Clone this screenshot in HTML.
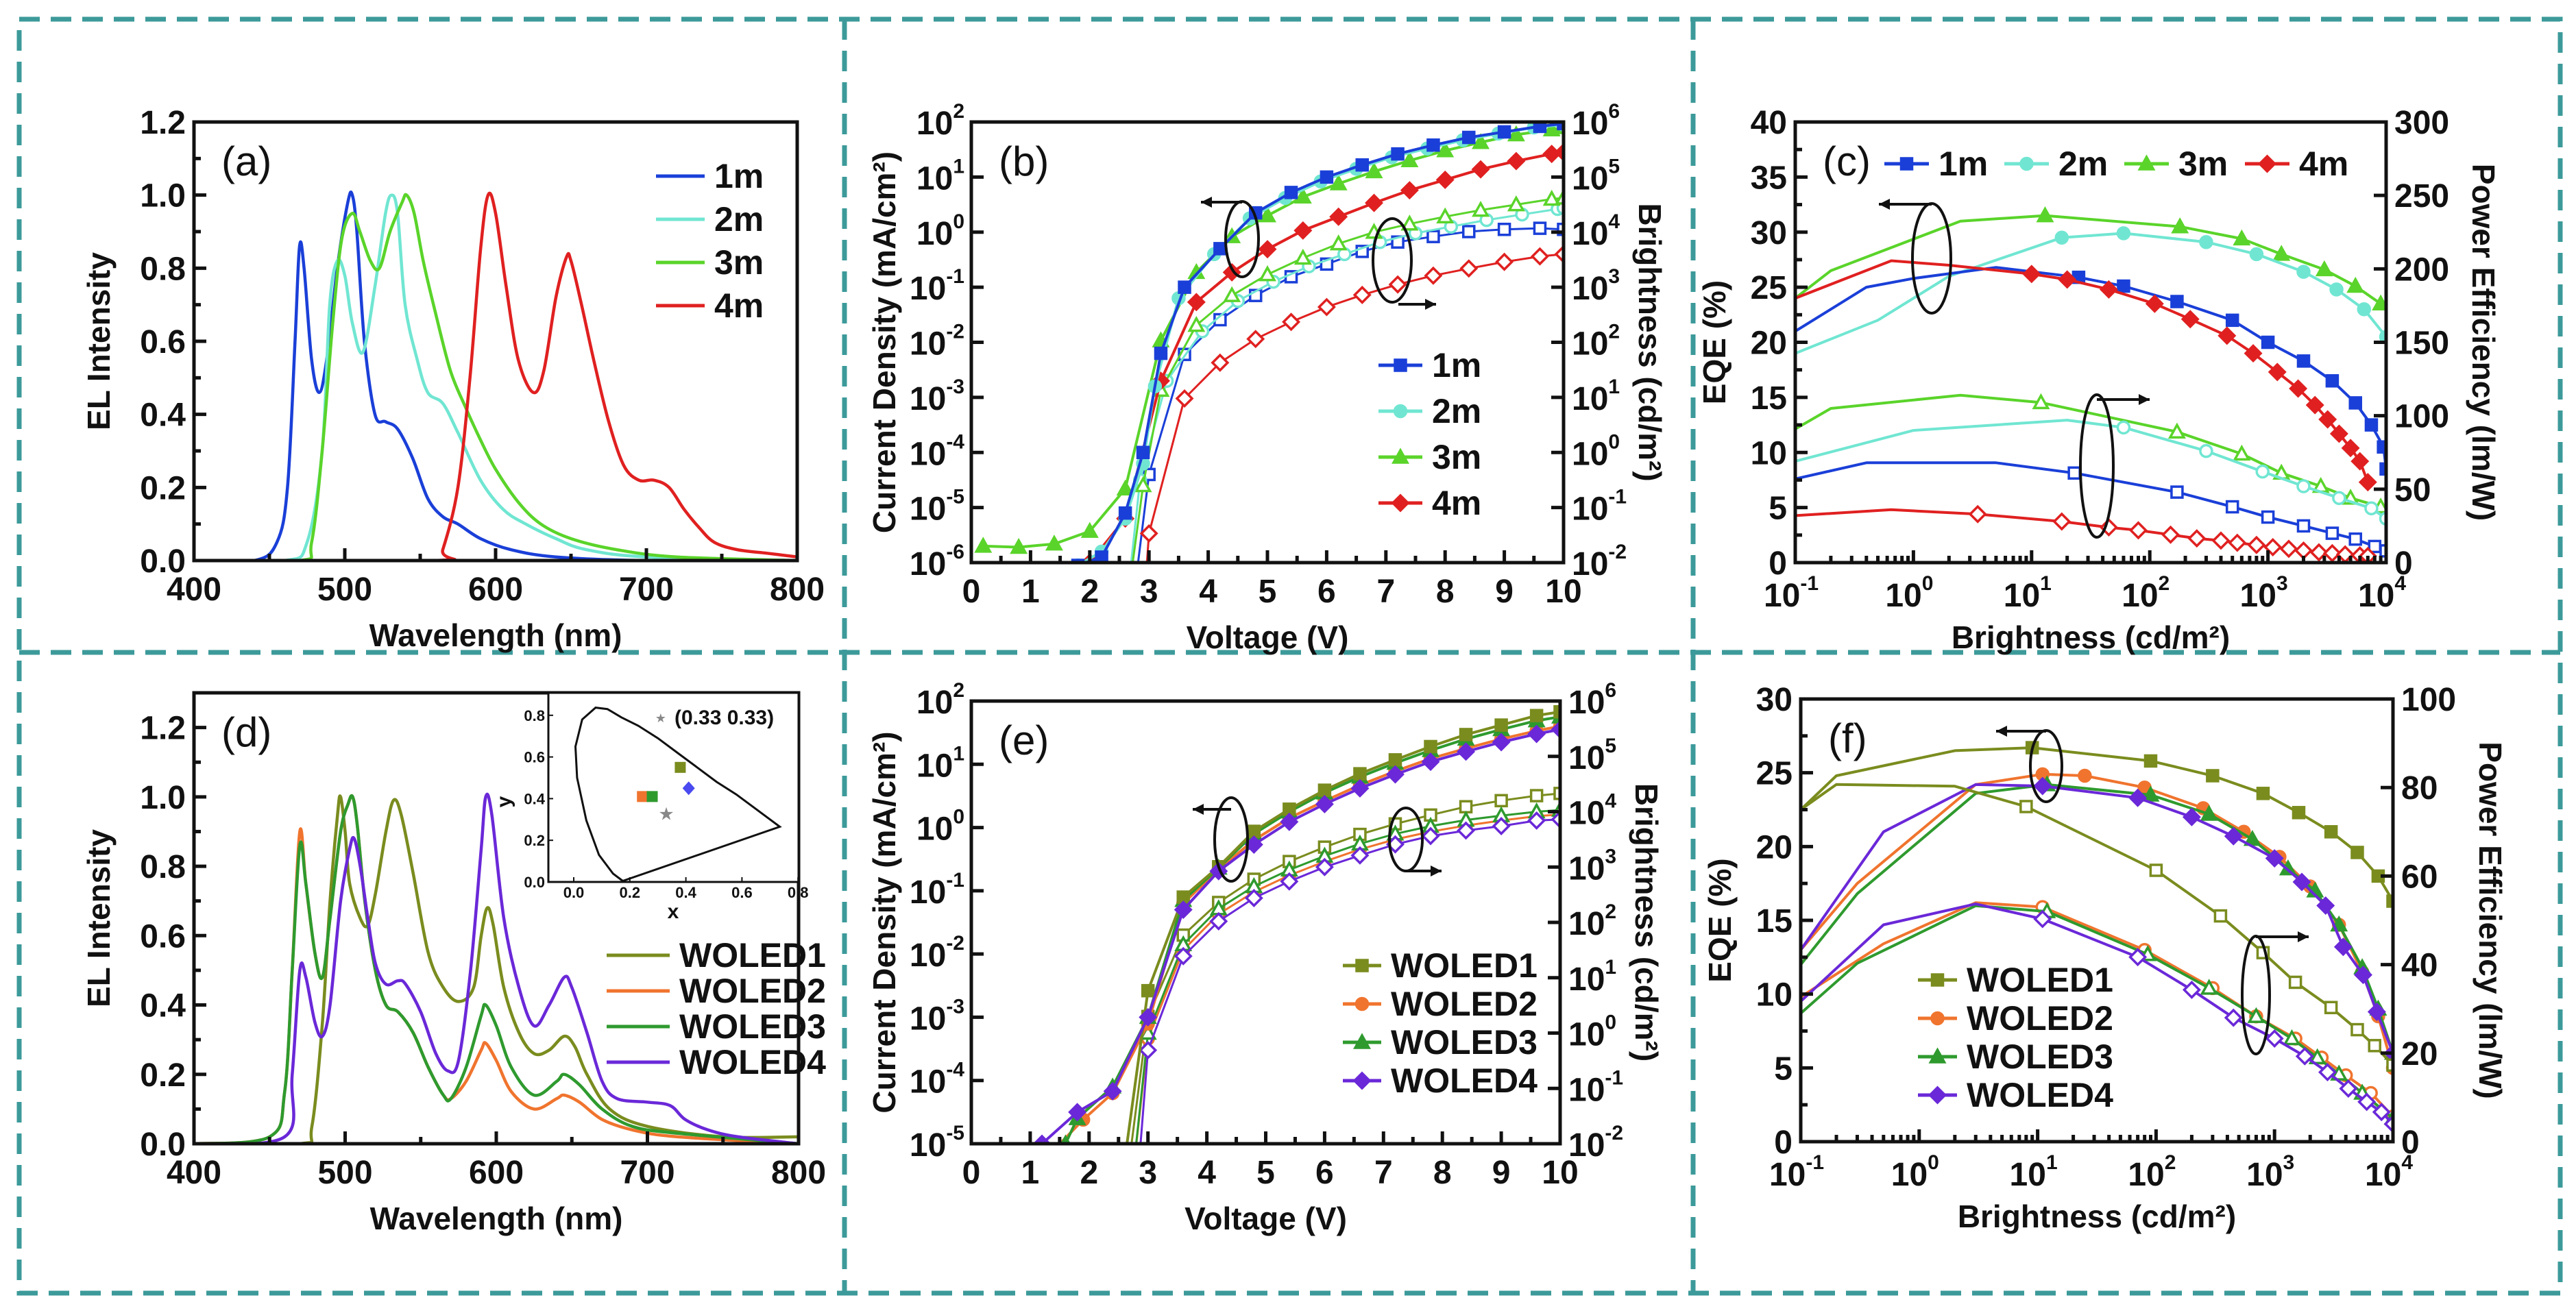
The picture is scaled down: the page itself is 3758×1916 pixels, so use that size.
<!DOCTYPE html>
<html><head><meta charset="utf-8"><style>
html,body{margin:0;padding:0;background:#fff}
svg{display:block}
text{font-family:"Liberation Sans",Arial,sans-serif}
</style></head><body>
<svg id="fig" width="3758" height="1916" viewBox="0 0 3758 1916" xmlns="http://www.w3.org/2000/svg">
<rect width="3758" height="1916" fill="#fff"/>
<g stroke="#3d9a9a" stroke-width="7" stroke-dasharray="30 16" fill="none">
<rect x="28" y="28" width="3707" height="1859"/>
<line x1="1232" y1="28" x2="1232" y2="1887"/>
<line x1="2470" y1="28" x2="2470" y2="1887"/>
<line x1="28" y1="952" x2="3735" y2="952"/>
</g>
</svg>
<script>
// ---------- Panel (a) data ----------
const wl1m=[400,440,455,462,467,470,473,478,483,488,495,502,505,508,513,520,527,535,545,555,565,575,590,610,640,700,800];
const in1m=[0,0,0.05,0.2,0.6,0.86,0.8,0.55,0.46,0.55,0.8,0.98,1.0,0.9,0.6,0.4,0.38,0.36,0.28,0.17,0.12,0.1,0.06,0.03,0.01,0,0];
const wl2m=[400,460,475,485,490,495,500,505,512,520,527,531,535,540,548,555,565,575,590,605,620,640,660,700,800];
const in2m=[0,0,0.05,0.3,0.7,0.82,0.78,0.65,0.57,0.75,0.95,1.0,0.95,0.7,0.55,0.46,0.43,0.35,0.22,0.14,0.1,0.06,0.03,0.01,0];
const wl3m=[400,470,478,485,492,498,505,510,517,523,530,538,541,546,552,560,570,580,590,600,615,630,650,680,720,800];
const in3m=[0,0,0.05,0.3,0.65,0.88,0.95,0.9,0.82,0.8,0.9,0.98,1.0,0.95,0.82,0.68,0.52,0.42,0.33,0.25,0.16,0.1,0.06,0.03,0.01,0];
const wl4m=[400,560,565,575,583,590,595,600,607,615,625,632,640,647,650,657,665,675,685,695,705,715,725,735,745,760,780,800];
const in4m=[0,0,0.03,0.2,0.5,0.85,1.0,0.95,0.75,0.55,0.46,0.52,0.72,0.83,0.82,0.7,0.55,0.38,0.26,0.22,0.22,0.2,0.14,0.09,0.05,0.03,0.02,0.01];
// ---------- Panel (b) data (log10 values) ----------
const vJ1m=[0.6,1.2,1.8,2.2,2.6,2.9,3.2,3.6,4.2,4.8,5.4,6.0,6.6,7.2,7.8,8.4,9.0,9.6,10];
const jLog1m=[-6.1,-6.1,-6.05,-5.9,-5.1,-4.0,-2.2,-1.0,-0.3,0.35,0.72,1.0,1.22,1.42,1.58,1.72,1.82,1.92,1.97];
const vJ2m=[0.6,1.2,1.8,2.2,2.6,2.9,3.1,3.5,4.1,4.7,5.3,5.9,6.5,7.1,7.7,8.3,8.9,9.5,10];
const jLog2m=[-6.1,-6.1,-6.05,-5.8,-5.2,-4.2,-2.8,-1.2,-0.4,0.25,0.62,0.92,1.15,1.36,1.52,1.67,1.79,1.9,1.95];
const vJ3m=[0.2,0.8,1.4,2.0,2.6,3.2,3.8,4.4,5.0,5.6,6.2,6.8,7.4,8.0,8.6,9.2,9.8,10];
const jLog3m=[-5.7,-5.72,-5.66,-5.43,-4.66,-1.97,-0.73,-0.08,0.3,0.64,0.88,1.1,1.3,1.48,1.63,1.77,1.86,1.9];
const vJ4m=[2.0,2.6,3.2,3.8,4.4,5.0,5.6,6.2,6.8,7.4,8.0,8.6,9.2,9.8,10];
const jLog4m=[-6.0,-5.2,-2.7,-1.27,-0.73,-0.31,0.03,0.28,0.53,0.76,0.95,1.14,1.29,1.42,1.45];
const vL1m=[2.7,3.0,3.6,4.2,4.8,5.4,6.0,6.6,7.2,7.8,8.4,9.0,9.6,10];
const lLog1m=[-3,-0.4,1.78,2.41,2.85,3.19,3.42,3.65,3.82,3.92,4.01,4.05,4.07,4.05];
const vL2m=[2.6,2.85,3.3,3.9,4.5,5.1,5.7,6.3,6.9,7.5,8.1,8.7,9.3,9.9,10];
const lLog2m=[-3,-0.5,1.3,2.2,2.75,3.1,3.38,3.6,3.82,3.98,4.1,4.22,4.32,4.42,4.44];
const vL3m=[2.6,2.9,3.2,3.8,4.4,5.0,5.6,6.2,6.8,7.4,8.0,8.6,9.2,9.8,10];
const lLog3m=[-3,-0.6,1.13,2.31,2.85,3.23,3.53,3.79,4.0,4.15,4.28,4.4,4.5,4.6,4.62];
const vL4m=[2.9,3.0,3.6,4.2,4.8,5.4,6.0,6.6,7.2,7.8,8.4,9.0,9.6,10];
const lLog4m=[-3,-1.47,0.98,1.63,2.06,2.37,2.64,2.86,3.05,3.21,3.34,3.46,3.56,3.6];
// ---------- Panel (c) data ----------
const bE1m=[0.1,0.4,1,5,25,60,170,500,1000,2000,3500,5500,7500,9500,10000];
const eqe1m=[21,25,25.8,26.8,25.9,25.1,23.7,22,20,18.3,16.5,14.5,12.5,10.5,8.5];
const bE2m=[0.1,0.5,2,18,60,300,800,2000,3800,6500,10000];
const eqe2m=[19,22,26,29.5,29.9,29.1,28,26.4,24.8,23,20.5];
const bE3m=[0.1,0.2,2.5,13,180,600,1300,3000,5500,9000];
const eqe3m=[24,26.5,31,31.5,30.5,29.4,28,26.6,25.1,23.5];
const bE4m=[0.1,0.65,2,10,20,45,110,220,450,750,1200,1800,2500,3200,4000,5000,6000,7000];
const eqe4m=[24,27.4,27,26.2,25.7,24.8,23.5,22.1,20.6,19,17.3,15.8,14.3,13,11.7,10.4,9.2,7.3];
const bP1m=[0.1,0.4,5,23,170,500,1000,2000,3500,5500,8000,10000];
const pe1m=[57,68,68,61,48,38,31,25,20,16,11,8];
const bP2m=[0.1,1,20,60,300,900,2000,4000,7500,10000];
const pe2m=[69,90,97,92,76,62,52,44,37,30];
const bP3m=[0.1,0.2,2.5,12,170,600,1300,2800,5000,9000];
const pe3m=[91,105,114,109,89,74,61,52,44,38];
const bP4m=[0.1,0.65,3.5,18,45,80,150,250,400,550,800,1100,1500,2000,2700,3500,4500,6000,7000];
const pe4m=[32,36,33,28,24,22,19,16.5,15,13.5,12,10.5,9.4,8.2,7,6.4,5.6,4.9,4.5];
// ---------- Panel (d) data ----------
const wlW1=[400,470,478,485,490,495,497,500,503,510,515,520,527,532,537,545,555,565,575,585,590,594,598,605,615,625,635,645,652,660,675,700,750,800];
const inW1=[0,0,0.05,0.35,0.7,0.95,1.0,0.9,0.75,0.65,0.63,0.72,0.9,0.99,0.95,0.78,0.55,0.45,0.41,0.45,0.6,0.68,0.63,0.45,0.32,0.26,0.27,0.31,0.28,0.2,0.1,0.05,0.02,0.02];
const wlW2=[400,450,460,465,470,474,480,485,490,497,502,505,508,513,520,527,535,545,555,565,570,580,590,593,600,610,625,640,645,655,670,690,720,800];
const inW2=[0,0.02,0.15,0.5,0.9,0.75,0.55,0.48,0.65,0.9,0.98,1.0,0.92,0.7,0.5,0.4,0.38,0.32,0.22,0.14,0.13,0.18,0.27,0.29,0.24,0.15,0.1,0.13,0.14,0.12,0.07,0.04,0.02,0];
const wlW3=[400,450,460,465,470,474,480,485,490,497,502,505,508,513,520,527,535,545,555,565,570,580,590,593,600,610,625,640,645,655,670,690,720,800];
const inW3=[0,0.02,0.15,0.5,0.86,0.75,0.55,0.48,0.65,0.9,0.98,1.0,0.92,0.7,0.5,0.4,0.38,0.32,0.22,0.14,0.13,0.22,0.37,0.4,0.34,0.22,0.14,0.18,0.2,0.17,0.1,0.05,0.03,0];
const wlW4=[400,460,465,470,474,480,485,490,497,503,506,510,515,520,527,535,540,550,560,568,575,583,590,593,597,605,615,625,635,645,650,660,670,680,700,715,725,740,760,800];
const inW4=[0,0.02,0.2,0.5,0.48,0.35,0.31,0.4,0.7,0.85,0.88,0.8,0.65,0.52,0.46,0.47,0.46,0.38,0.26,0.21,0.24,0.5,0.85,1.0,0.95,0.65,0.45,0.34,0.4,0.48,0.45,0.32,0.18,0.13,0.12,0.11,0.07,0.04,0.02,0];
const cieNames=['WOLED1','WOLED2','WOLED3','WOLED4'];
const cieX=[0.38,0.245,0.28,0.41];
const cieY=[0.55,0.41,0.41,0.45];
const whiteX=[0.33];
const whiteY=[0.33];
// ---------- Panel (e) data (log10) ----------
const vJW1=[2.6,3.0,3.6,4.2,4.8,5.4,6.0,6.6,7.2,7.8,8.4,9.0,9.6,10];
const jLogW1=[-5.3,-2.58,-1.1,-0.62,-0.06,0.29,0.59,0.85,1.07,1.28,1.47,1.62,1.77,1.83];
const vJW2=[1.4,1.9,2.4,3.0,3.6,4.2,4.8,5.4,6.0,6.6,7.2,7.8,8.4,9.0,9.6,10];
const jLogW2=[-5.1,-4.62,-4.2,-3.1,-1.2,-0.66,-0.2,0.15,0.42,0.67,0.89,1.09,1.25,1.4,1.53,1.6];
const vJW3=[1.6,1.8,2.4,3.0,3.6,4.2,4.8,5.4,6.0,6.6,7.2,7.8,8.4,9.0,9.6,10];
const jLogW3=[-5.0,-4.6,-4.1,-3.0,-1.15,-0.64,-0.1,0.25,0.55,0.8,1.02,1.22,1.4,1.55,1.69,1.75];
const vJW4=[1.2,1.8,2.4,3.0,3.6,4.2,4.8,5.4,6.0,6.6,7.2,7.8,8.4,9.0,9.6,10];
const jLogW4=[-5.0,-4.5,-4.17,-3.0,-1.3,-0.69,-0.27,0.09,0.37,0.62,0.84,1.04,1.2,1.35,1.48,1.55];
const vLW1=[2.6,3.0,3.6,4.2,4.8,5.4,6.0,6.6,7.2,7.8,8.4,9.0,9.6,10];
const lLogW1=[-3,0.3,1.77,2.36,2.78,3.1,3.36,3.59,3.78,3.94,4.09,4.2,4.29,4.33];
const vLW2=[2.7,3.0,3.6,4.2,4.8,5.4,6.0,6.6,7.2,7.8,8.4,9.0,9.6,10];
const lLogW2=[-3,-0.1,1.5,2.15,2.55,2.85,3.1,3.32,3.5,3.64,3.75,3.84,3.92,3.95];
const vLW3=[2.7,3.0,3.6,4.2,4.8,5.4,6.0,6.6,7.2,7.8,8.4,9.0,9.6,10];
const lLogW3=[-3,0.0,1.6,2.25,2.65,2.95,3.2,3.42,3.6,3.74,3.85,3.93,4.0,4.03];
const vLW4=[2.8,3.0,3.6,4.2,4.8,5.4,6.0,6.6,7.2,7.8,8.4,9.0,9.6,10];
const lLogW4=[-3,-0.31,1.39,2.02,2.44,2.74,3.0,3.21,3.41,3.56,3.66,3.74,3.84,3.86];
// ---------- Panel (f) data ----------
const bEW1=[0.1,0.2,2,9,90,300,800,1600,3000,5000,7500,10000];
const eqeW1=[22.5,24.8,26.5,26.7,25.8,24.8,23.6,22.3,21,19.6,18,16.3];
const bEW2=[0.1,0.3,3,11,25,80,250,550,1100,2000,3500,5500,7500,10000];
const eqeW2=[13,17.5,24.2,24.9,24.8,24,22.6,21,19.3,17.3,14.7,11.5,8.5,5];
const bEW3=[0.1,0.3,3,12,90,280,650,1300,2200,3500,5500,7500,10000];
const eqeW3=[12,16.8,23.6,24.2,23.5,22.2,20.5,18.5,17,14.7,11.8,9,6];
const bEW4=[0.1,0.5,3,11,70,200,450,1000,1700,2700,3800,5600,7300,10000];
const eqeW4=[13,21,24.2,24.1,23.3,22,20.7,19.2,17.6,16,13.2,11.3,8.8,6];
const bPW1=[0.1,0.2,2,8,100,350,800,1500,3000,5000,7000,10000];
const peW1=[75,80.7,80.3,75.7,61.3,51,42.7,36,30.3,25.3,21.7,17.3];
const bPW2=[0.1,0.5,3,11,80,300,700,1500,2500,4000,6500,10000];
const peW2=[32.7,44.7,54,53,43.3,34.7,28.3,23.3,19,15,11,5.7];
const bPW3=[0.1,0.3,3,12,85,280,700,1400,2300,3500,5500,10000];
const peW3=[29,40.3,53.3,52,42.3,34.7,28.3,23.3,19,15.3,11,5.3];
const bPW4=[0.1,0.5,3,11,70,200,450,1000,1800,2800,4200,6000,8000,10000];
const peW4=[31.7,49,53.7,50.3,41.7,34.3,28,23.3,19.3,15.7,12,9,6.7,4];

const NS='http://www.w3.org/2000/svg';
const svg=document.getElementById('fig');
function el(tag,attrs,parent,name,inter){
  const e=document.createElementNS(NS,tag);
  for(const k in attrs)e.setAttribute(k,attrs[k]);
  
  
  (parent||svg).appendChild(e);return e;
}
function txt(parent,x,y,s,size,anchor,bold,name){
  const t=el('text',{x:x,y:y,'font-size':size,'text-anchor':anchor||'start','font-weight':bold?'bold':'normal',fill:'#111'},parent,name,false);
  t.textContent=s;return t;
}
function pow10Label(parent,x,y,exp,anchor,name){
  const t=el('text',{x:x,y:y,'font-size':48,'text-anchor':anchor,'font-weight':'bold',fill:'#111'},parent,name,false);
  const a=document.createElementNS(NS,'tspan');a.textContent='10';t.appendChild(a);
  const b=document.createElementNS(NS,'tspan');b.setAttribute('dy','-24');b.setAttribute('font-size','30');b.textContent=String(exp);t.appendChild(b);
  return t;
}
function makePanel(c){
  const g=el('g',{},svg,'panel-'+c.id,false);
  const P=Object.assign({g:g},c);
  P.sx=v=>{const t=c.xlog?Math.log10(v):v;return c.x0+(t-c.xmin)/(c.xmax-c.xmin)*(c.x1-c.x0);};
  P.syL=v=>c.y1-(v-c.lmin)/(c.lmax-c.lmin)*(c.y1-c.y0);
  P.syR=v=>c.y1-(v-c.rmin)/(c.rmax-c.rmin)*(c.y1-c.y0);
  const cp=el('clipPath',{id:'clip-'+c.id},g,'clip-'+c.id,false);
  el('rect',{x:c.x0,y:c.y0,width:c.x1-c.x0,height:c.y1-c.y0},cp,'clip-rect',false);
  P.plot=el('g',{'clip-path':'url(#clip-'+c.id+')'},g,'plot-area-'+c.id,false);
  const ax=el('g',{stroke:'#111','stroke-width':5,fill:'none'},g,'axes-'+c.id,false);
  el('rect',{x:c.x0,y:c.y0,width:c.x1-c.x0,height:c.y1-c.y0},ax,'plot-frame',false);
  if(c.xlog){
    for(let e=c.xmin;e<=c.xmax;e++){
      const x=P.sx(Math.pow(10,e));
      el('line',{x1:x,y1:c.y1,x2:x,y2:c.y1-18},ax,'x-major-tick',false);
      pow10Label(g,x-6,c.y1+64,e,'middle','x-tick-label');
      if(e<c.xmax)for(let m=2;m<10;m++){const xm=P.sx(m*Math.pow(10,e));el('line',{x1:xm,y1:c.y1,x2:xm,y2:c.y1-10},ax,'x-minor-tick',false);}
    }
  }else{
    for(let v=c.xmin;v<=c.xmax+1e-9;v+=c.xstep){
      const x=P.sx(v);
      el('line',{x1:x,y1:c.y1,x2:x,y2:c.y1-18},ax,'x-major-tick',false);
      txt(g,x,c.y1+58,String(v),48,'middle',true,'x-tick-label');
      if(v+c.xstep/2<c.xmax){const xm=P.sx(v+c.xstep/2);el('line',{x1:xm,y1:c.y1,x2:xm,y2:c.y1-10},ax,'x-minor-tick',false);}
    }
  }
  if(c.llog){
    for(let e=c.lmin;e<=c.lmax;e++){const y=P.syL(e);
      el('line',{x1:c.x0,y1:y,x2:c.x0+18,y2:y},ax,'y-left-major-tick',false);
      pow10Label(g,c.x0-10,y+18,e,'end','y-left-tick-label');}
  }else{
    for(let v=c.lmin;v<=c.lLabelMax+1e-9;v+=c.lstep){const y=P.syL(v);
      el('line',{x1:c.x0,y1:y,x2:c.x0+18,y2:y},ax,'y-left-major-tick',false);
      txt(g,c.x0-12,y+17,c.lfmt?v.toFixed(1):String(v),48,'end',true,'y-left-tick-label');
      const ym=P.syL(v+c.lstep/2);if(v+c.lstep/2<c.lmax)el('line',{x1:c.x0,y1:ym,x2:c.x0+10,y2:ym},ax,'y-left-minor-tick',false);}
  }
  if(c.rmin!==undefined){
    if(c.rlog){
      for(let e=c.rmin;e<=c.rmax;e++){const y=P.syR(e);
        el('line',{x1:c.x1,y1:y,x2:c.x1-18,y2:y},ax,'y-right-major-tick',false);
        pow10Label(g,c.x1+12,y+18,e,'start','y-right-tick-label');}
    }else{
      for(let v=c.rmin;v<=c.rmax+1e-9;v+=c.rstep){const y=P.syR(v);
        el('line',{x1:c.x1,y1:y,x2:c.x1-18,y2:y},ax,'y-right-major-tick',false);
        txt(g,c.x1+12,y+17,String(v),48,'start',true,'y-right-tick-label');}
    }
  }
  txt(g,(c.x0+c.x1)/2,c.y1+125,c.xtitle,46,'middle',true,'x-axis-title');
  const ly=(c.y0+c.y1)/2;
  const lt=txt(g,c.x0-c.loff,ly,c.ltitle,46,'middle',true,'y-left-axis-title');
  lt.setAttribute('transform','rotate(-90 '+(c.x0-c.loff)+' '+ly+')');
  if(c.rtitle){const rt=txt(g,c.x1+c.roff,ly,c.rtitle,46,'middle',true,'y-right-axis-title');
    rt.setAttribute('transform','rotate(90 '+(c.x1+c.roff)+' '+ly+')');}
  txt(g,c.x0+40,c.y0+78,c.label,60,'start',false,'panel-label');
  return P;
}
function marker(parent,x,y,shape,color,filled,name){
  const f=filled?color:'#fff';const a={fill:f,stroke:color,'stroke-width':3.5};let m;
  if(shape==='s')m=el('rect',Object.assign({x:x-8,y:y-8,width:16,height:16},a),parent,name,false);
  else if(shape==='c')m=el('circle',Object.assign({cx:x,cy:y,r:8.5},a),parent,name,false);
  else if(shape==='t')m=el('polygon',Object.assign({points:(x)+','+(y-10)+' '+(x+10)+','+(y+8)+' '+(x-10)+','+(y+8)},a),parent,name,false);
  else m=el('polygon',Object.assign({points:x+','+(y-11)+' '+(x+11)+','+y+' '+x+','+(y+11)+' '+(x-11)+','+y},a),parent,name,false);
  return m;
}
function smoothPath(pts){
  let d='M'+pts[0][0].toFixed(1)+','+pts[0][1].toFixed(1);
  for(let i=0;i<pts.length-1;i++){
    const p0=pts[i-1]||pts[i],p1=pts[i],p2=pts[i+1],p3=pts[i+2]||p2;
    const t=1/6;
    const c1=[p1[0]+(p2[0]-p0[0])*t,p1[1]+(p2[1]-p0[1])*t];
    const c2=[p2[0]-(p3[0]-p1[0])*t,p2[1]-(p3[1]-p1[1])*t];
    d+=' C'+c1[0].toFixed(1)+','+c1[1].toFixed(1)+' '+c2[0].toFixed(1)+','+c2[1].toFixed(1)+' '+p2[0].toFixed(1)+','+p2[1].toFixed(1);
  }
  return d;
}
function series(P,xs,ys,side,color,shape,filled,name,logy,mFrom,w,smooth){
  const fy=side==='R'?P.syR:P.syL;
  const pts=xs.map((x,i)=>[P.sx(x),fy(ys[i])]);
  const g=el('g',{},P.plot,name,false);
  if(smooth)el('path',{d:smoothPath(pts),fill:'none',stroke:color,'stroke-width':w||4,'stroke-linejoin':'round'},g,name+'-line',false);
  else el('polyline',{points:pts.map(p=>p[0].toFixed(1)+','+p[1].toFixed(1)).join(' '),fill:'none',stroke:color,'stroke-width':w||4,'stroke-linejoin':'round'},g,name+'-line',false);
  if(shape)pts.forEach((p,i)=>{if(i>=(mFrom||0)&&p[1]>=P.y0-5&&p[1]<=P.y1+5)marker(g,p[0],p[1],shape,color,filled,name+'-point');});
}
function legendRow(parent,x1,x2,y,color,shape,label,name){
  const g=el('g',{},parent,name,false);
  el('line',{x1:x1,y1:y,x2:x2,y2:y,stroke:color,'stroke-width':5},g,'legend-line',false);
  if(shape)marker(g,(x1+x2)/2,y,shape,color,true,'legend-marker');
  txt(g,x2+14,y+17,label,50,'start',true,'legend-label');
}
function loopArrow(parent,cx,cy,rx,ry,ax1,ay,ax2,name){
  const g=el('g',{stroke:'#111','stroke-width':4,fill:'none'},parent,name,false);
  el('ellipse',{cx:cx,cy:cy,rx:rx,ry:ry},g,'ellipse',false);
  el('line',{x1:ax1,y1:ay,x2:ax2,y2:ay},g,'arrow-shaft',false);
  const d=ax2<ax1?1:-1;
  el('polygon',{points:ax2+','+ay+' '+(ax2+d*16)+','+(ay-8)+' '+(ax2+d*16)+','+(ay+8),fill:'#111',stroke:'none'},g,'arrow-head',false);
}
const C1='#1a3fd8',C2='#70e6d2',C3='#5ad42a',C4='#e02020';
const W1='#7a8c1e',W2='#f0742e',W3='#2e9a2e',W4='#6a28d8';

// Panel a
const A=makePanel({id:'a',x0:283,x1:1163,y0:178,y1:818,xmin:400,xmax:800,xstep:100,lmin:0,lmax:1.2,lLabelMax:1.2,lstep:0.2,lfmt:true,
  xtitle:'Wavelength (nm)',ltitle:'EL Intensity',loff:123,label:'(a)'});
series(A,wl1m,in1m,'L',C1,null,false,'spectrum-1m',0,0,4.5,true);
series(A,wl2m,in2m,'L',C2,null,false,'spectrum-2m',0,0,4.5,true);
series(A,wl3m,in3m,'L',C3,null,false,'spectrum-3m',0,0,4.5,true);
series(A,wl4m,in4m,'L',C4,null,false,'spectrum-4m',0,0,4.5,true);
const lgA=el('g',{},A.g,'legend-a',false);
[['1m',C1],['2m',C2],['3m',C3],['4m',C4]].forEach((r,i)=>legendRow(lgA,957,1028,257+i*63,r[1],null,r[0],'legend-entry-'+r[0]));

// Panel b
const B=makePanel({id:'b',x0:1417,x1:2281,y0:178,y1:821,xmin:0,xmax:10,xstep:1,lmin:-6,lmax:2,llog:true,rmin:-2,rmax:6,rlog:true,
  xtitle:'Voltage (V)',ltitle:'Current Density (mA/cm²)',loff:111,rtitle:'Brightness (cd/m²)',roff:110,label:'(b)'});
series(B,vL1m,lLog1m,'R',C1,'s',false,'brightness-1m',0,1,3);
series(B,vL2m,lLog2m,'R',C2,'c',false,'brightness-2m',0,1,3);
series(B,vL3m,lLog3m,'R',C3,'t',false,'brightness-3m',0,1,3);
series(B,vL4m,lLog4m,'R',C4,'d',false,'brightness-4m',0,1,3);
series(B,vJ4m,jLog4m,'L',C4,'d',true,'current-4m');
series(B,vJ3m,jLog3m,'L',C3,'t',true,'current-3m');
series(B,vJ2m,jLog2m,'L',C2,'c',true,'current-2m');
series(B,vJ1m,jLog1m,'L',C1,'s',true,'current-1m');
const lgB=el('g',{},B.g,'legend-b',false);
[['1m',C1,'s'],['2m',C2,'c'],['3m',C3,'t'],['4m',C4,'d']].forEach((r,i)=>legendRow(lgB,2011,2075,533+i*67,r[1],r[2],r[0],'legend-entry-'+r[0]));
loopArrow(B.g,1812,349,24,55,1812,295,1752,'current-axis-indicator');
loopArrow(B.g,2031,380,28,61,2040,444,2095,'brightness-axis-indicator');

// Panel c
const Cp=makePanel({id:'c',x0:2619,x1:3481,y0:178,y1:821,xmin:-1,xmax:4,xlog:true,lmin:0,lmax:40,lLabelMax:40,lstep:5,rmin:0,rmax:300,rstep:50,
  xtitle:'Brightness (cd/m²)',ltitle:'EQE (%)',loff:102,rtitle:'Power Efficiency (lm/W)',roff:126,label:'(c)'});
series(Cp,bE3m,eqe3m,'L',C3,'t',true,'eqe-3m',0,3);
series(Cp,bE2m,eqe2m,'L',C2,'c',true,'eqe-2m',0,3);
series(Cp,bE1m,eqe1m,'L',C1,'s',true,'eqe-1m',0,4);
series(Cp,bE4m,eqe4m,'L',C4,'d',true,'eqe-4m',0,3);
series(Cp,bP3m,pe3m,'R',C3,'t',false,'pe-3m',0,3);
series(Cp,bP2m,pe2m,'R',C2,'c',false,'pe-2m',0,3);
series(Cp,bP1m,pe1m,'R',C1,'s',false,'pe-1m',0,3);
series(Cp,bP4m,pe4m,'R',C4,'d',false,'pe-4m',0,2);
const lgC=el('g',{},Cp.g,'legend-c',false);
[['1m',C1,'s',2749],['2m',C2,'c',2924],['3m',C3,'t',3099],['4m',C4,'d',3275]].forEach(r=>legendRow(lgC,r[3],r[3]+65,239,r[1],r[2],r[0],'legend-entry-'+r[0]));
loopArrow(Cp.g,2818,377,28,80,2818,298,2741,'eqe-axis-indicator');
loopArrow(Cp.g,3059,680,24,104,3059,583,3136,'pe-axis-indicator');

// Panel d
const D=makePanel({id:'d',x0:283,x1:1165,y0:1011,y1:1669,xmin:400,xmax:800,xstep:100,lmin:0,lmax:1.3,lLabelMax:1.2,lstep:0.2,lfmt:true,
  xtitle:'Wavelength (nm)',ltitle:'EL Intensity',loff:123,label:'(d)'});
series(D,wlW1,inW1,'L',W1,null,false,'spectrum-woled1',0,0,4.5,true);
series(D,wlW2,inW2,'L',W2,null,false,'spectrum-woled2',0,0,4.5,true);
series(D,wlW3,inW3,'L',W3,null,false,'spectrum-woled3',0,0,4.5,true);
series(D,wlW4,inW4,'L',W4,null,false,'spectrum-woled4',0,0,4.5,true);
const lgD=el('g',{},D.g,'legend-d',false);
[['WOLED1',W1],['WOLED2',W2],['WOLED3',W3],['WOLED4',W4]].forEach((r,i)=>legendRow(lgD,885,977,1394+i*52,r[1],null,r[0],'legend-entry-'+r[0].toLowerCase()));
const inset=el('g',{},D.g,'cie-inset',false);
const ix=v=>837+v*409, iy=v=>1287-v*304;
el('rect',{x:800,y:1011,width:365,height:276,fill:'#fff',stroke:'#111','stroke-width':3},inset,'inset-frame',false);
const locus=[[0.175,0.005],[0.17,0.01],[0.14,0.04],[0.09,0.13],[0.045,0.295],[0.012,0.5],[0.006,0.65],[0.03,0.78],[0.078,0.837],[0.12,0.83],[0.17,0.79],[0.23,0.75],[0.3,0.69],[0.37,0.62],[0.44,0.55],[0.51,0.48],[0.58,0.42],[0.64,0.36],[0.735,0.265]];
el('polygon',{points:locus.map(p=>ix(p[0]).toFixed(1)+','+iy(p[1]).toFixed(1)).join(' '),fill:'none',stroke:'#111','stroke-width':3},inset,'spectral-locus',false);
[0,0.2,0.4,0.6,0.8].forEach(v=>{txt(inset,ix(v),1310,v.toFixed(1),22,'middle',true,'inset-x-tick-label');
  el('line',{x1:ix(v),y1:1287,x2:ix(v),y2:1280,stroke:'#111','stroke-width':2},inset,'inset-x-tick',false);
  txt(inset,795,iy(v)+8,v.toFixed(1),22,'end',true,'inset-y-tick-label');
  el('line',{x1:800,y1:iy(v),x2:807,y2:iy(v),stroke:'#111','stroke-width':2},inset,'inset-y-tick',false);});
txt(inset,982,1340,'x',30,'middle',true,'inset-x-title');
const iyl=txt(inset,745,1170,'y',30,'middle',true,'inset-y-title');iyl.setAttribute('transform','rotate(-90 745 1170)');
const cieCol=[W1,W2,W3,'#4a4af0'];
cieNames.forEach((n,i)=>{const x=ix(cieX[i]),y=iy(cieY[i]);
  if(i===3)el('polygon',{points:x+','+(y-10)+' '+(x+9)+','+y+' '+x+','+(y+10)+' '+(x-9)+','+y,fill:cieCol[i]},inset,'cie-point-'+n.toLowerCase(),false);
  else el('rect',{x:x-8,y:y-8,width:16,height:16,fill:cieCol[i]},inset,'cie-point-'+n.toLowerCase(),false);});
txt(inset,ix(whiteX[0]),iy(whiteY[0])+10,'★',26,'middle',false,'cie-white-point').setAttribute('fill','#888');
txt(inset,ix(0.31),1054,'★',18,'middle',false,'cie-legend-star').setAttribute('fill','#888');
txt(inset,984,1057,'(0.33 0.33)',30,'start',true,'cie-white-label');

// Panel e
const E=makePanel({id:'e',x0:1417,x1:2276,y0:1023,y1:1669,xmin:0,xmax:10,xstep:1,lmin:-5,lmax:2,llog:true,rmin:-2,rmax:6,rlog:true,
  xtitle:'Voltage (V)',ltitle:'Current Density (mA/cm²)',loff:111,rtitle:'Brightness (cd/m²)',roff:110,label:'(e)'});
series(E,vLW1,lLogW1,'R',W1,'s',false,'brightness-woled1',0,1,3);
series(E,vLW2,lLogW2,'R',W2,'c',false,'brightness-woled2',0,1,3);
series(E,vLW3,lLogW3,'R',W3,'t',false,'brightness-woled3',0,1,3);
series(E,vLW4,lLogW4,'R',W4,'d',false,'brightness-woled4',0,1,3);
series(E,vJW2,jLogW2,'L',W2,'c',true,'current-woled2');
series(E,vJW3,jLogW3,'L',W3,'t',true,'current-woled3');
series(E,vJW1,jLogW1,'L',W1,'s',true,'current-woled1',0,1);
series(E,vJW4,jLogW4,'L',W4,'d',true,'current-woled4');
const lgE=el('g',{},E.g,'legend-e',false);
[['WOLED1',W1,'s'],['WOLED2',W2,'c'],['WOLED3',W3,'t'],['WOLED4',W4,'d']].forEach((r,i)=>legendRow(lgE,1959,2015,1409+i*56,r[1],r[2],r[0],'legend-entry-'+r[0].toLowerCase()));
loopArrow(E.g,1796,1225,24,61,1796,1181,1740,'current-axis-indicator');
loopArrow(E.g,2051,1225,24,46,2051,1271,2103,'brightness-axis-indicator');

// Panel f
const F=makePanel({id:'f',x0:2627,x1:3491,y0:1020,y1:1666,xmin:-1,xmax:4,xlog:true,lmin:0,lmax:30,lLabelMax:30,lstep:5,rmin:0,rmax:100,rstep:20,
  xtitle:'Brightness (cd/m²)',ltitle:'EQE (%)',loff:102,rtitle:'Power Efficiency (lm/W)',roff:126,label:'(f)'});
series(F,bEW1,eqeW1,'L',W1,'s',true,'eqe-woled1',0,3);
series(F,bEW2,eqeW2,'L',W2,'c',true,'eqe-woled2',0,3);
series(F,bEW3,eqeW3,'L',W3,'t',true,'eqe-woled3',0,3);
series(F,bEW4,eqeW4,'L',W4,'d',true,'eqe-woled4',0,3);
series(F,bPW1,peW1,'R',W1,'s',false,'pe-woled1',0,3);
series(F,bPW2,peW2,'R',W2,'c',false,'pe-woled2',0,3);
series(F,bPW3,peW3,'R',W3,'t',false,'pe-woled3',0,3);
series(F,bPW4,peW4,'R',W4,'d',false,'pe-woled4',0,3);
const lgF=el('g',{},F.g,'legend-f',false);
[['WOLED1',W1,'s'],['WOLED2',W2,'c'],['WOLED3',W3,'t'],['WOLED4',W4,'d']].forEach((r,i)=>legendRow(lgF,2798,2855,1430+i*56,r[1],r[2],r[0],'legend-entry-'+r[0].toLowerCase()));
loopArrow(F.g,2985,1118,23,52,2985,1067,2912,'eqe-axis-indicator');
loopArrow(F.g,3291,1452,20,86,3291,1367,3368,'pe-axis-indicator');
</script>
</body></html>
